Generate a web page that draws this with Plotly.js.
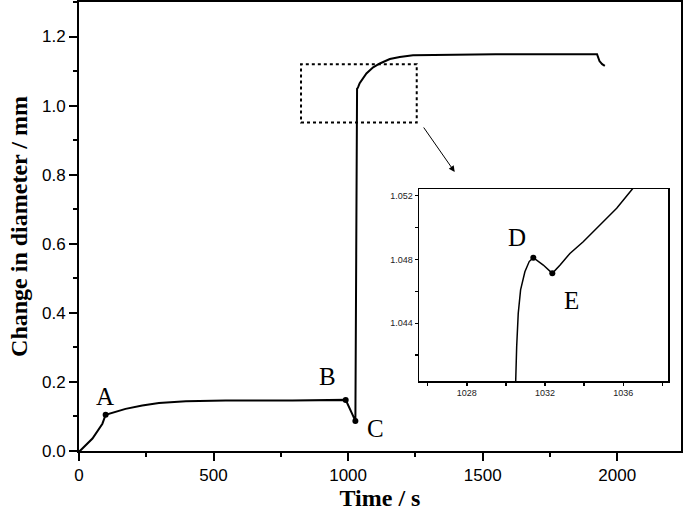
<!DOCTYPE html>
<html>
<head>
<meta charset="utf-8">
<script src="https://cdn.plot.ly/plotly-3.0.1.min.js"></script>
<style>
	html, body { margin: 0; padding: 0; background: #fff; }
	#graph { width: 685px; height: 514px; }
</style>
</head>
<body>
<div id="graph"></div>
<script>
// Diameter change of the sample vs time
let time = [0, 6, 50, 74, 87, 99, 173, 235, 297, 397, 545, 793, 991, 1027,
	1030.5, 1030.55, 1030.63, 1030.75, 1030.97, 1031.19, 1031.4, 1031.91, 1032.37, 1032.77,
	1033.27, 1033.95, 1034.8, 1035.66, 1036.42, 1037.2,
	1043, 1068, 1093, 1118, 1155, 1192, 1241, 1387, 1548, 1925, 1934, 1944, 1954]
let diameter = [0, 0.002, 0.036, 0.066, 0.079, 0.105, 0.122, 0.132, 0.139, 0.144, 0.146, 0.146, 0.148, 0.087,
	1.0404, 1.04253, 1.04462, 1.04609, 1.04723, 1.04787, 1.04811, 1.04765, 1.04713, 1.04765,
	1.04838, 1.04911, 1.05016, 1.05121, 1.05236, 1.0535,
	1.065, 1.093, 1.111, 1.122, 1.135, 1.141, 1.146, 1.147, 1.149, 1.149, 1.129, 1.120, 1.115]

// Marked points: A, B, C on the main plot, D, E in the inset
let mainLabels = ['A', 'B', 'C']
let mainPointT = [99, 991, 1027]
let mainPointD = [0.105, 0.148, 0.087]
let mainTextT = [95, 922, 1102]
let mainTextD = [0.158, 0.217, 0.066]

let insetLabels = ['D', 'E']
let insetPointT = [1031.4, 1032.37]
let insetPointD = [1.04811, 1.04713]
let insetTextT = [1030.57, 1033.36]
let insetTextD = [1.04935, 1.04541]

// Zoom box and inset ranges
let boxT = [825, 1255]
let boxD = [0.951, 1.12]
let insetRangeT = [1025.56, 1038.3]
let insetRangeD = [1.04038, 1.05242]

let serif = 'Liberation Serif, Times New Roman, serif'
let sans = 'Liberation Sans, Arial, sans-serif'

let data = [
	{
		x: time, y: diameter,
		type: 'scatter', mode: 'lines',
		line: { color: '#000', width: 2 },
		xaxis: 'x', yaxis: 'y',
	}, {
		x: mainPointT, y: mainPointD,
		type: 'scatter', mode: 'markers',
		marker: { color: '#000', size: 6 },
		xaxis: 'x', yaxis: 'y',
	}, {
		x: time, y: diameter,
		type: 'scatter', mode: 'lines',
		line: { color: '#000', width: 1.5 },
		xaxis: 'x2', yaxis: 'y2',
	}, {
		x: insetPointT, y: insetPointD,
		type: 'scatter', mode: 'markers',
		marker: { color: '#000', size: 6 },
		xaxis: 'x2', yaxis: 'y2',
	},
]

let annotations = []
mainLabels.forEach((t, i) => annotations.push({
	text: t, x: mainTextT[i], y: mainTextD[i], xref: 'x', yref: 'y',
	showarrow: false, font: { family: serif, size: 25, color: '#000' },
}))
insetLabels.forEach((t, i) => annotations.push({
	text: t, x: insetTextT[i], y: insetTextD[i], xref: 'x2', yref: 'y2',
	showarrow: false, font: { family: serif, size: 25, color: '#000' },
}))
// arrow from the zoom box down to the inset
annotations.push({
	x: 1396, y: 0.808, ax: 1277, ay: 0.941,
	xref: 'x', yref: 'y', axref: 'x', ayref: 'y',
	text: '', showarrow: true, arrowhead: 2, arrowsize: 1.2, arrowwidth: 1, arrowcolor: '#000',
})

let layout = {
	width: 685, height: 514,
	margin: { l: 79, r: 4, t: 2, b: 63 },
	paper_bgcolor: '#fff', plot_bgcolor: '#fff',
	showlegend: false,
	font: { family: sans, color: '#000' },
	xaxis: {
		range: [0, 2237],
		tickvals: [0, 500, 1000, 1500, 2000],
		ticks: 'outside', ticklen: 8, tickwidth: 2, tickcolor: '#000',
		minor: { dtick: 250, ticks: 'outside', ticklen: 4, tickwidth: 2, tickcolor: '#000' },
		showline: true, linewidth: 2, linecolor: '#000', mirror: true,
		showgrid: false, zeroline: false,
		tickfont: { family: sans, size: 17 },
		title: { text: 'Time / s', font: { family: serif, size: 24, weight: 'bold' }, standoff: 4 },
	},
	yaxis: {
		range: [0, 1.3],
		tickvals: [0, 0.2, 0.4, 0.6, 0.8, 1.0, 1.2],
		tickformat: '.1f',
		ticks: 'outside', ticklen: 8, tickwidth: 2, tickcolor: '#000',
		minor: { dtick: 0.1, ticks: 'outside', ticklen: 4, tickwidth: 2, tickcolor: '#000' },
		showline: true, linewidth: 2, linecolor: '#000', mirror: true,
		showgrid: false, zeroline: false,
		tickfont: { family: sans, size: 17 },
		title: { text: 'Change in diameter / mm', font: { family: serif, size: 24, weight: 'bold' }, standoff: 8 },
	},
	xaxis2: {
		domain: [0.5648, 0.979], anchor: 'y2',
		range: insetRangeT,
		tickvals: [1028, 1032, 1036],
		ticks: 'outside', ticklen: 3, tickwidth: 1.5, tickcolor: '#000',
		minor: { tickvals: [1026, 1030, 1034, 1038], ticks: 'outside', ticklen: 3, tickwidth: 1.5, tickcolor: '#000' },
		showline: true, linewidth: 1.5, linecolor: '#000', mirror: true,
		showgrid: false, zeroline: false,
		tickfont: { family: sans, size: 9, color: '#222' },
	},
	yaxis2: {
		domain: [0.1559, 0.5835], anchor: 'x2',
		range: insetRangeD,
		tickvals: [1.044, 1.048, 1.052],
		tickformat: '.3f',
		ticks: 'outside', ticklen: 3, tickwidth: 1.5, tickcolor: '#000',
		minor: { tickvals: [1.042, 1.046, 1.050], ticks: 'outside', ticklen: 3, tickwidth: 1.5, tickcolor: '#000' },
		showline: true, linewidth: 1.5, linecolor: '#000', mirror: true,
		showgrid: false, zeroline: false,
		tickfont: { family: sans, size: 9, color: '#222' },
	},
	shapes: [
		{
			type: 'rect', xref: 'x', yref: 'y',
			x0: boxT[0], x1: boxT[1], y0: boxD[0], y1: boxD[1],
			line: { color: '#000', width: 2, dash: 'dot' },
			layer: 'below',
		},
		// white background behind the inset
		{
			type: 'rect', xref: 'x2 domain', yref: 'y2 domain',
			x0: 0, x1: 1, y0: 0, y1: 1,
			fillcolor: '#fff', line: { width: 0 }, layer: 'below',
		},
	],
	annotations: annotations,
}

Plotly.newPlot('graph', data, layout, { displayModeBar: false, staticPlot: true })
</script>
</body>
</html>
